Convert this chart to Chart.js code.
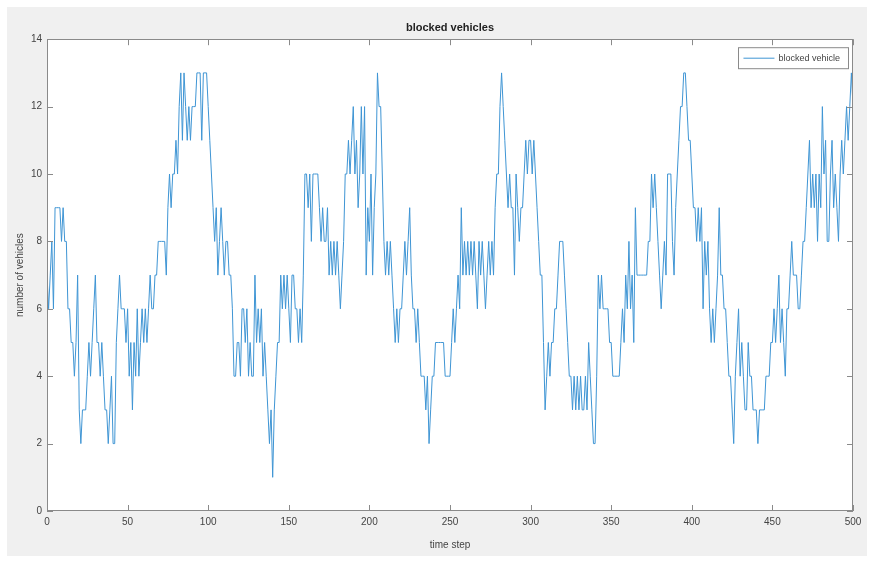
<!DOCTYPE html>
<html>
<head>
<meta charset="utf-8">
<script src="https://cdn.jsdelivr.net/npm/chart.js@4.4.1/dist/chart.umd.min.js"></script>
<style>
html, body { margin: 0; padding: 0; background: #fff; }
#wrap { width: 874px; height: 563px; }
</style>
</head>
<body>
<div id="wrap"><canvas id="blockedChart" width="874" height="563"></canvas></div>
<script>
// blocked vehicles per time step (steps 0..500)
const blockedVehicles = [
    7, 6, 7, 8, 6, 9, 9, 9, 9, 8,
    9, 8, 8, 6, 6, 5, 5, 4, 5, 7,
    3, 2, 3, 3, 3, 4, 5, 4, 5, 6,
    7, 5, 5, 4, 5, 4, 3, 3, 2, 3,
    4, 2, 2, 5, 6, 7, 6, 6, 6, 5,
    6, 4, 5, 3, 5, 4, 6, 4, 5, 6,
    5, 6, 5, 6, 7, 6, 6, 7, 7, 8,
    8, 8, 8, 8, 7, 9, 10, 9, 10, 10,
    11, 10, 12, 13, 11, 13, 12, 11, 12, 11,
    12, 12, 12, 13, 13, 13, 11, 13, 13, 13,
    12, 11, 10, 9, 8, 9, 7, 8, 9, 8,
    7, 8, 8, 7, 7, 6, 4, 4, 5, 5,
    4, 6, 6, 5, 6, 4, 5, 4, 4, 7,
    5, 6, 5, 6, 4, 5, 4, 3, 2, 3,
    1, 3, 4, 5, 5, 7, 6, 7, 6, 7,
    6, 5, 7, 7, 6, 6, 5, 6, 5, 7,
    10, 10, 9, 10, 8, 10, 10, 10, 10, 9,
    8, 9, 8, 8, 9, 7, 8, 7, 8, 7,
    8, 7, 6, 7, 8, 10, 10, 11, 10, 11,
    12, 10, 11, 9, 10, 12, 10, 12, 7, 9,
    8, 10, 7, 9, 10, 13, 12, 12, 10, 8,
    7, 8, 7, 8, 7, 6, 5, 6, 5, 6,
    6, 7, 8, 7, 8, 9, 7, 6, 6, 5,
    6, 5, 4, 4, 4, 3, 4, 2, 3, 4,
    4, 5, 5, 5, 5, 5, 5, 4, 4, 4,
    4, 5, 6, 5, 6, 7, 6, 9, 7, 8,
    7, 8, 7, 8, 7, 8, 7, 6, 8, 7,
    8, 7, 6, 7, 8, 7, 8, 7, 9, 10,
    10, 12, 13, 12, 11, 10, 9, 10, 9, 9,
    7, 10, 9, 8, 9, 9, 10, 11, 10, 11,
    11, 10, 11, 10, 9, 8, 7, 7, 5, 3,
    4, 5, 4, 5, 5, 6, 6, 7, 8, 8,
    8, 7, 6, 5, 4, 4, 3, 4, 3, 4,
    3, 4, 3, 3, 4, 3, 5, 4, 3, 2,
    2, 4, 7, 6, 7, 6, 6, 6, 6, 5,
    5, 4, 4, 4, 4, 4, 5, 6, 5, 7,
    6, 8, 6, 7, 5, 9, 7, 7, 7, 7,
    7, 7, 7, 8, 8, 10, 9, 10, 9, 8,
    7, 6, 7, 8, 7, 10, 10, 10, 8, 7,
    9, 10, 11, 12, 12, 13, 13, 12, 11, 11,
    10, 9, 9, 8, 9, 8, 9, 6, 8, 7,
    8, 6, 5, 6, 5, 6, 7, 9, 7, 7,
    6, 6, 5, 4, 4, 3, 2, 4, 5, 6,
    4, 5, 4, 3, 3, 5, 4, 4, 3, 3,
    3, 2, 3, 3, 3, 3, 4, 4, 4, 5,
    5, 6, 5, 6, 7, 5, 6, 5, 4, 6,
    6, 7, 8, 7, 7, 7, 6, 6, 7, 8,
    8, 9, 10, 11, 9, 10, 9, 10, 8, 10,
    9, 12, 10, 11, 8, 8, 10, 11, 9, 10,
    9, 8, 10, 11, 10, 11, 12, 11, 12, 13,
    12
];
// x categories are just the time step index of each sample
const timeSteps = blockedVehicles.map((v, i) => i);

const xTickStep = 50;
const yTickStep = 2;
const xRange = [0, 500];
const yRange = [0, 14];

const lineColor = '#3f95d4';
const textColor = '#444444';
const fontFamily = '"Liberation Sans", Arial, sans-serif';

// gray matlab figure with white axes
const figureBackground = {
    id: 'figureBackground',
    beforeDraw(chart) {
        const ctx = chart.ctx;
        const a = chart.chartArea;
        ctx.save();
        ctx.fillStyle = '#ffffff';
        ctx.fillRect(0, 0, chart.width, chart.height);
        ctx.fillStyle = '#f0f0f0';
        ctx.fillRect(7, 7, chart.width - 14, chart.height - 14);
        ctx.fillStyle = '#ffffff';
        ctx.fillRect(a.left, a.top, a.right - a.left, a.bottom - a.top);
        ctx.restore();
    }
};

// axes box with inward ticks on all four sides
const axesBox = {
    id: 'axesBox',
    afterDatasetsDraw(chart) {
        const { ctx, chartArea: a, scales } = chart;
        const len = 6;
        ctx.save();
        ctx.strokeStyle = '#8a8a8a';
        ctx.lineWidth = 1;
        ctx.strokeRect(Math.round(a.left) + 0.5, Math.round(a.top) + 0.5,
            Math.round(a.right - a.left) - 1, Math.round(a.bottom - a.top) - 1);
        ctx.beginPath();
        scales.x.ticks.forEach(t => {
            const px = Math.round(scales.x.getPixelForValue(t.value)) + 0.5;
            ctx.moveTo(px, a.bottom); ctx.lineTo(px, a.bottom - len);
            ctx.moveTo(px, a.top); ctx.lineTo(px, a.top + len);
        });
        scales.y.ticks.forEach(t => {
            const py = Math.round(scales.y.getPixelForValue(t.value)) + 0.5;
            ctx.moveTo(a.left, py); ctx.lineTo(a.left + len, py);
            ctx.moveTo(a.right, py); ctx.lineTo(a.right - len, py);
        });
        ctx.stroke();
        ctx.restore();
    }
};

// legend box in the top right corner of the axes
const cornerLegend = {
    id: 'cornerLegend',
    afterDraw(chart) {
        const { ctx, chartArea: a } = chart;
        const ds = chart.data.datasets[0];
        ctx.save();
        ctx.font = '9px ' + fontFamily;
        const textW = ctx.measureText(ds.label).width;
        const w = textW + 48;
        const h = 21;
        const right = a.right - 5;
        const top = a.top + 8;
        const left = right - w;
        ctx.fillStyle = '#ffffff';
        ctx.fillRect(left, top, w, h);
        ctx.strokeStyle = '#8a8a8a';
        ctx.lineWidth = 1;
        ctx.strokeRect(Math.round(left) + 0.5, top + 0.5, Math.round(w), h);
        ctx.strokeStyle = ds.borderColor;
        ctx.beginPath();
        ctx.moveTo(left + 5, top + 11);
        ctx.lineTo(left + 36, top + 11);
        ctx.stroke();
        ctx.fillStyle = textColor;
        ctx.textBaseline = 'middle';
        ctx.fillText(ds.label, left + 40, top + 11);
        ctx.restore();
    }
};

const ctx = document.getElementById('blockedChart').getContext('2d');
const chart = new Chart(ctx, {
    type: 'line',
    data: {
        labels: timeSteps,
        datasets: [{
            label: 'blocked vehicle',
            data: blockedVehicles,
            borderColor: lineColor,
            borderWidth: 1,
            pointRadius: 0,
            tension: 0,
            fill: false
        }]
    },
    options: {
        responsive: false,
        animation: false,
        layout: { padding: { left: 0, right: 21, top: 0, bottom: 0 } },
        plugins: {
            legend: { display: false },
            tooltip: { enabled: false },
            title: {
                display: true,
                fullSize: false,
                text: 'blocked vehicles',
                color: '#222',
                font: { family: fontFamily, size: 11, weight: 'bold' },
                padding: { top: 21, bottom: 5 }
            }
        },
        scales: {
            x: {
                type: 'linear',
                min: xRange[0],
                max: xRange[1],
                afterFit: s => { s.height = 52; },
                grid: { display: false, drawTicks: false },
                border: { display: false },
                ticks: {
                    stepSize: xTickStep,
                    padding: 5,
                    maxRotation: 0,
                    color: textColor,
                    font: { family: fontFamily, size: 10 }
                },
                title: {
                    display: true,
                    text: 'time step',
                    color: textColor,
                    font: { family: fontFamily, size: 10 },
                    padding: { top: 0, bottom: 12 }
                }
            },
            y: {
                min: yRange[0],
                max: yRange[1],
                afterFit: s => { s.width = 47; },
                grid: { display: false, drawTicks: false },
                border: { display: false },
                ticks: {
                    stepSize: yTickStep,
                    padding: 5,
                    color: textColor,
                    font: { family: fontFamily, size: 10 }
                },
                title: {
                    display: true,
                    text: 'number of vehicles',
                    color: textColor,
                    font: { family: fontFamily, size: 10 },
                    padding: { top: 14, bottom: 0 }
                }
            }
        }
    },
    plugins: [figureBackground, axesBox, cornerLegend]
});
</script>
</body>
</html>
